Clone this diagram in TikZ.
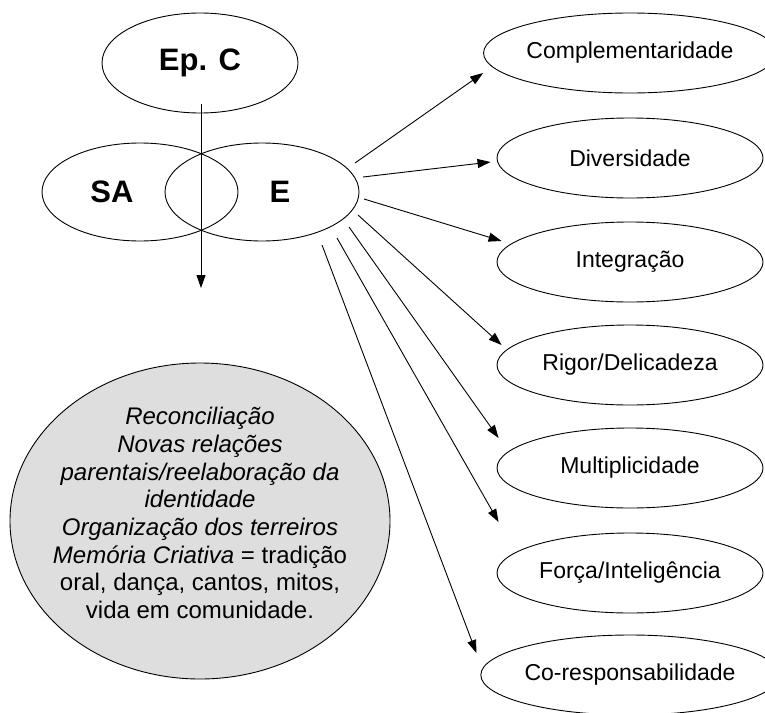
\documentclass[tikz,border=0pt]{standalone}
\usepackage{fontspec}
\setmainfont{Liberation Sans}
\usetikzlibrary{shapes.geometric,arrows.meta,calc}
\begin{document}
\begin{tikzpicture}[x=1pt,y=-1pt,
  line width=0.9pt,
  ell/.style={draw, ellipse, inner sep=0pt},
  big/.style={font=\fontsize{31}{34}\selectfont\bfseries},
  side/.style={ell, minimum width=266pt, minimum height=80pt, font=\fontsize{23}{26}\selectfont},
  arr/.style={-{Triangle[length=13pt,width=9pt]}}]
\useasboundingbox (0,0) rectangle (765,712);

% gray ellipse
\node[ell, fill=gray!26, minimum width=380pt, minimum height=316pt] (R) at (200,521) {};
\node[align=center, inner sep=0pt, font=\fontsize{24}{27.7}\selectfont] (Rt) at (200,513)
  {\itshape Reconciliação\\
   \itshape Novas relações\\
   \itshape parentais/reelaboração da\\
   \itshape identidade\\
   \itshape Organização dos terreiros\\
   \textit{Memória Criativa} = tradição\\
   oral, dança, cantos, mitos,\\
   vida em comunidade.};

% top cluster
\node[ell, big, minimum width=196pt, minimum height=100pt] (EpC) at (200,63) {Ep. C};
\node[ell, minimum width=196pt, minimum height=98pt,
  label={[big, xshift=-28pt]center:SA}] (SA) at (140,192) {};
\node[ell, minimum width=194pt, minimum height=98pt,
  label={[big, xshift=18pt]center:E}] (E) at (262,192) {};

\coordinate (down) at (201,288);
\draw[arr] ([shift={(1,-9)}]EpC.south) -- (down);

% right column
\node[side] (C1) at (630,53)  {Complementaridade};
\node[side] (C2) at (630,158) {Diversidade};
\node[side] (C3) at (630,262) {Integração};
\node[side] (C4) at (630,365) {Rigor/Delicadeza};
\node[side] (C5) at (630,468) {Multiplicidade};
\node[side] (C6) at (630,573) {Força/Inteligência};
\node[side] (C7) at (630,675) {Co-responsabilidade};

\draw[arr] ([shift={(93,-29)}]E.center) -- ([shift={(0,20)}]C1.west);
\draw[arr] ([shift={(101,-15)}]E.center) -- ([shift={(-6,4)}]C2.west);
\draw[arr] ([shift={(102,7)}]E.center) -- ([shift={(5,-21)}]C3.west);
\draw[arr] ([shift={(96,23)}]E.center) -- ([shift={(5,-20)}]C4.west);
\draw[arr] ([shift={(87,35)}]E.center) -- ([shift={(2,-30)}]C5.west);
\draw[arr] ([shift={(75,46)}]E.center) -- ([shift={(2,-51)}]C6.west);
\draw[arr] ([shift={(60,53)}]E.center) -- ([shift={(-4,-22)}]C7.west);
\end{tikzpicture}
\end{document}
